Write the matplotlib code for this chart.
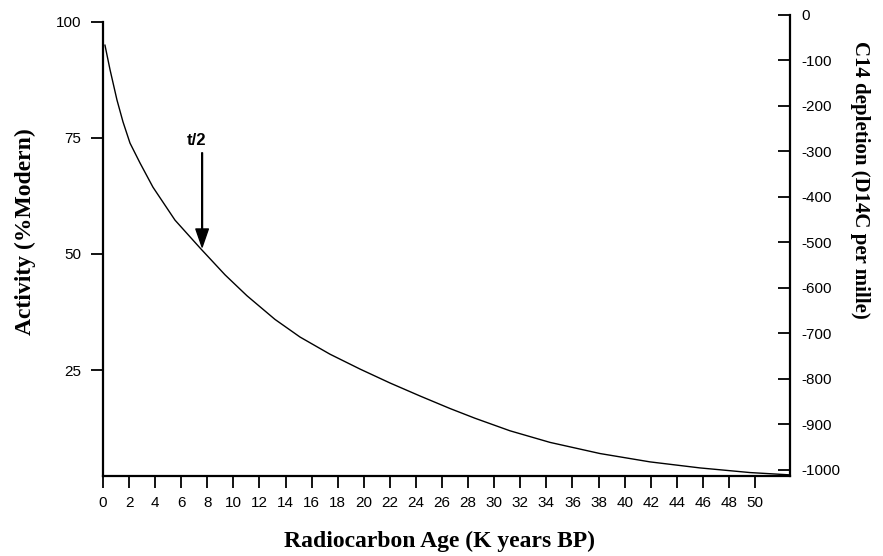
import matplotlib.pyplot as plt

# values
age_kyr = [0.15, 0.54, 1.07, 1.53, 2.07, 2.84, 3.83, 5.52, 7.44, 9.36, 11.04,
           13.19, 15.11, 17.41, 19.71, 22.01, 24.31, 26.61, 28.53, 31.21,
           34.28, 38.11, 41.95, 45.78, 49.62, 52.68]
activity = [95.0, 89.7, 83.2, 78.5, 73.9, 69.6, 64.4, 57.3, 51.3, 45.5, 41.0,
            35.9, 32.1, 28.4, 25.2, 22.2, 19.4, 16.7, 14.6, 11.9,
            9.4, 7.0, 5.2, 3.9, 2.9, 2.4]

x_ticks = list(range(0, 51, 2))
left_ticks = [25, 50, 75, 100]
right_ticks = list(range(0, -1001, -100))

half_life_x = 7.6
half_life_y = 51.5

W, H = 883, 556
fig = plt.figure(figsize=(W / 100, H / 100), dpi=100)
ax = fig.add_axes([103 / W, 1 - 476 / H, 687 / W, 461 / H])

ax.plot(age_kyr, activity, color='black', lw=1.0)
ax.set_xlim(0, 52.68)
ax.set_ylim(2.16, 101.5)

tick_font = {'family': ['Liberation Sans Narrow', 'Liberation Sans'], 'size': 11}
label_font = {'family': 'Liberation Serif', 'weight': 'bold'}

ax.set_xticks(x_ticks)
ax.set_xticklabels([str(v) for v in x_ticks], fontdict=tick_font)
ax.set_yticks(left_ticks)
ax.set_yticklabels([str(v) for v in left_ticks], fontdict=tick_font)
ax.tick_params(axis='both', direction='out', length=8.5, width=1.3, pad=6)
ax.tick_params(axis='y', pad=7)

ax.spines['top'].set_visible(False)
ax.spines['right'].set_visible(False)
ax.spines['left'].set_bounds(2.16, 100)
for s in ['left', 'bottom']:
    ax.spines[s].set_linewidth(1.6)

ax2 = ax.twinx()
ax2.set_ylim(-1013.2, 0)
ax2.set_yticks(right_ticks)
ax2.set_yticklabels([str(v) for v in right_ticks], fontdict=tick_font)
ax2.tick_params(axis='y', direction='in', length=9, width=1.3, pad=8)
for s in ['top', 'left', 'bottom']:
    ax2.spines[s].set_visible(False)
ax2.spines['right'].set_linewidth(1.6)

# half-life arrow
ax.annotate('', xy=(half_life_x, half_life_y), xytext=(half_life_x, 71.8),
            arrowprops=dict(facecolor='black', edgecolor='black', width=0.6,
                            headwidth=9, headlength=13, shrink=0))
ax.text(half_life_x - 0.4, 74.4, 't/2', ha='center', va='center',
        family='Liberation Sans', weight='bold', size=12)

fig.text(440 / W, 1 - 541 / H, 'Radiocarbon Age (K years BP)',
         ha='center', va='center', size=17, **label_font)
fig.text(25 / W, 1 - 232 / H, 'Activity (%Modern)', rotation=90,
         ha='center', va='center', size=17, **label_font)
fig.text(860 / W, 1 - 180 / H, 'C14 depletion (D14C per mille)', rotation=-90,
         ha='center', va='center', size=15, **label_font)

fig.savefig('out.png', dpi=100)
